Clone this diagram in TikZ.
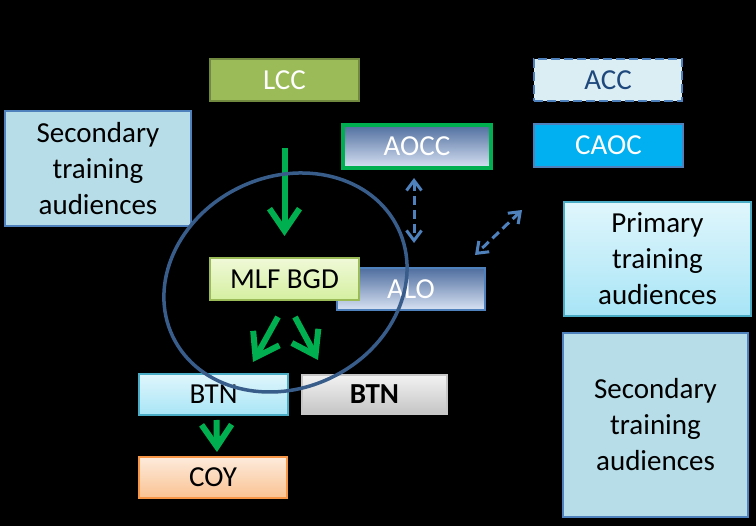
\documentclass[tikz,border=0pt]{standalone}
\usepackage{fontspec}
\setmainfont{Carlito}
\usepackage{tikz}
\usetikzlibrary{arrows.meta}

\definecolor{oliv}{HTML}{9BBB59}
\definecolor{olivdark}{HTML}{71893F}
\definecolor{accfill}{HTML}{DBEEF4}
\definecolor{linkblue}{HTML}{4F81BD}
\definecolor{txtblue}{HTML}{1F497D}
\definecolor{okgreen}{HTML}{00B050}
\definecolor{caocblue}{HTML}{00B0F0}
\definecolor{audfill}{HTML}{B7DDE8}
\definecolor{aqua}{HTML}{4BACC6}
\definecolor{ringblue}{HTML}{385D8A}
\definecolor{peach}{HTML}{F79646}
\definecolor{navytop}{HTML}{4F6E9F}
\definecolor{navymid}{HTML}{B6C7E5}
\definecolor{navybot}{HTML}{D8E2F3}
\definecolor{skytop}{HTML}{E0F6FC}
\definecolor{skybot}{HTML}{A8E5F6}
\definecolor{limetop}{HTML}{F0F9D8}
\definecolor{limebot}{HTML}{D4EFA0}
\definecolor{peachtop}{HTML}{FDEBDC}
\definecolor{peachbot}{HTML}{FAC292}

\begin{document}
\begin{tikzpicture}[x=1pt,y=-1pt]
\fill[black] (0,0) rectangle (756,526);
\useasboundingbox (0,0) rectangle (756,526);

\begin{scope}[every node/.style={draw,line width=2pt,inner sep=0pt,align=center,
              font=\fontsize{29}{36}\selectfont}]
    \node[fill=oliv, draw=olivdark, text=white, minimum width=149, minimum height=42] (lcc) at (284.5,80) {LCC};
    \node[fill=accfill, draw=linkblue, dash pattern=on 9pt off 4pt, text=txtblue, minimum width=148, minimum height=42] (acc) at (608,80) {ACC};
    \node[top color=navytop, middle color=navymid, bottom color=navybot,
          draw=okgreen, line width=4pt, text=white, minimum width=148, minimum height=43] (aocc) at (417,146.5) {AOCC};
    \node[fill=caocblue, draw=linkblue, text=white, minimum width=149, minimum height=43] (caoc) at (608.5,145.5) {CAOC};
    \node[fill=audfill, draw=linkblue, minimum width=186, minimum height=115] (secl) at (98,168.5) {Secondary\\training\\audiences};
    \node[top color=skytop, bottom color=skybot, draw=aqua, minimum width=187, minimum height=114] (prim) at (657.5,259) {Primary\\training\\audiences};
    \node[fill=audfill, draw=linkblue, minimum width=185, minimum height=184] (secr) at (655.5,425) {Secondary\\training\\audiences};

    \node[top color=navytop, middle color=navymid, bottom color=navybot,
          draw=linkblue, text=white, minimum width=148, minimum height=42] (alo) at (411,289) {ALO};
    \node[top color=limetop, bottom color=limebot, draw=oliv, minimum width=149, minimum height=42] (mlf) at (284.5,279) {MLF BGD};

    \node[top color=skytop, bottom color=skybot, draw=aqua, minimum width=149, minimum height=41] (btna) at (213.5,394.5) {BTN};
    \node[top color=black!5, bottom color=black!23, draw=black!22, font=\fontsize{29}{36}\selectfont\bfseries,
          minimum width=145, minimum height=39] (btnb) at (374.5,394.5) {BTN};
    \node[top color=peachtop, bottom color=peachbot, draw=peach, minimum width=148, minimum height=41] (coy) at (213,477.5) {COY};
\end{scope}

\coordinate (acclink) at (522,210);

\begin{scope}[>={Straight Barb[length=22pt 0,width=30pt 0]},
              every path/.style={okgreen, line width=6pt}]
    \draw[->, shorten <=46pt, shorten >=21pt] (lcc.south) -- (mlf.north);
    \draw[->] ([xshift=-6.5pt,yshift=-16pt]mlf.south) -- ([xshift=39.5pt,yshift=11pt]btna.north);
    \draw[->] ([xshift=10.5pt,yshift=-16pt]mlf.south) -- ([xshift=-56.5pt,yshift=14pt]btnb.north);
    \draw[->, shorten <=4pt, shorten >=4pt] ([xshift=3pt]btna.south) -- ([xshift=4pt]coy.north);
\end{scope}

\begin{scope}[>={Straight Barb[length=10pt 0,width=15pt 0]},
              every path/.style={linkblue, line width=3pt, dash pattern=on 9pt off 5pt}]
    \draw[<->, shorten <=8pt, shorten >=24pt] ([xshift=-3pt]aocc.south) -- ([xshift=-3pt]aocc.south |- alo.north);
    \draw[<->] (acclink) -- ([xshift=-11pt,yshift=12pt]alo.north east);
\end{scope}

% ring round the brigade
\coordinate (ring) at (285.5,282.5);
\draw[ringblue, line width=3.5pt, rotate around={25.7:(ring)}] (ring) ellipse (125pt and 105.6pt);
\end{tikzpicture}
\end{document}
